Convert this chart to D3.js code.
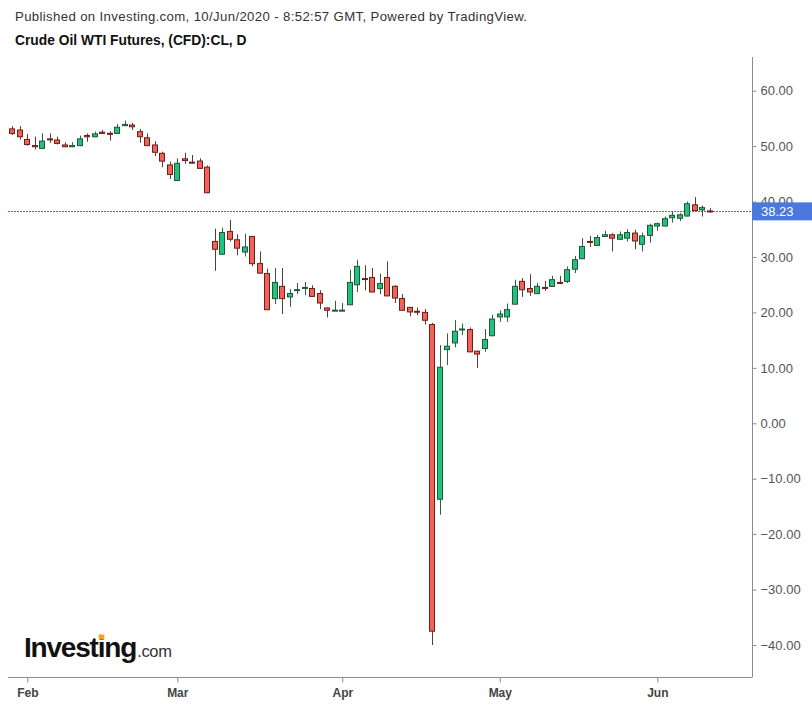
<!DOCTYPE html>
<html>
<head>
<meta charset="utf-8">
<script src="https://cdn.jsdelivr.net/npm/d3@7"></script>
<style>
  html, body { margin: 0; padding: 0; background: #fff; }
  svg { display: block; font-family: Arial, "Liberation Sans", sans-serif; }
</style>
</head>
<body>
<svg id="chart" width="812" height="707"></svg>
<script>
// ---- Data ----
const dates = [
  "2020-01-30","2020-01-31",
  "2020-02-03","2020-02-04","2020-02-05","2020-02-06","2020-02-07",
  "2020-02-10","2020-02-11","2020-02-12","2020-02-13","2020-02-14",
  "2020-02-17","2020-02-18","2020-02-19","2020-02-20","2020-02-21",
  "2020-02-24","2020-02-25","2020-02-26","2020-02-27","2020-02-28",
  "2020-03-02","2020-03-03","2020-03-04","2020-03-05","2020-03-06",
  "2020-03-09","2020-03-10","2020-03-11","2020-03-12","2020-03-13",
  "2020-03-16","2020-03-17","2020-03-18","2020-03-19","2020-03-20",
  "2020-03-23","2020-03-24","2020-03-25","2020-03-26","2020-03-27",
  "2020-03-30","2020-03-31",
  "2020-04-01","2020-04-02","2020-04-03",
  "2020-04-06","2020-04-07","2020-04-08","2020-04-09",
  "2020-04-13","2020-04-14","2020-04-15","2020-04-16","2020-04-17",
  "2020-04-20","2020-04-21","2020-04-22","2020-04-23","2020-04-24",
  "2020-04-27","2020-04-28","2020-04-29","2020-04-30",
  "2020-05-01",
  "2020-05-04","2020-05-05","2020-05-06","2020-05-07","2020-05-08",
  "2020-05-11","2020-05-12","2020-05-13","2020-05-14","2020-05-15",
  "2020-05-18","2020-05-19","2020-05-20","2020-05-21","2020-05-22",
  "2020-05-25","2020-05-26","2020-05-27","2020-05-28","2020-05-29",
  "2020-06-01","2020-06-02","2020-06-03","2020-06-04","2020-06-05",
  "2020-06-08","2020-06-09","2020-06-10"
];
const open = [
  53.2,53.0,
  51.3,50.2,49.5,51.4,51.2,
  50.3,49.8,50.0,52.0,51.6,
  52.6,52.4,52.2,53.6,53.9,
  52.7,51.6,50.3,48.8,46.7,
  43.7,47.8,47.2,47.4,46.3,
  32.9,30.4,34.7,33.2,30.8,
  33.8,28.9,27.1,22.4,24.8,
  22.7,24.0,24.5,24.4,23.5,
  20.9,20.3,
  20.3,21.3,24.9,
  26.2,26.4,24.2,26.4,
  24.8,22.6,21.0,20.3,20.1,
  17.9,-13.8,13.2,14.4,16.8,
  17.0,13.1,13.4,15.7,
  19.1,
  19.1,21.4,25.7,24.4,23.3,
  24.6,24.6,25.5,25.5,27.7,
  29.6,32.9,32.0,33.6,34.1,
  33.1,33.3,34.4,32.2,33.8,
  35.5,35.5,37.0,36.9,37.3,
  39.5,38.4,38.4
];
const high = [
  53.6,53.6,
  52.2,51.7,52.3,52.3,51.7,
  50.7,50.7,51.9,52.3,52.6,
  52.9,52.7,54.0,54.6,54.2,
  53.1,52.3,50.9,49.0,47.2,
  47.8,48.8,48.4,47.8,46.5,
  35.1,35.3,36.7,34.1,34.2,
  33.8,31.0,27.9,28.0,28.0,
  24.2,25.3,25.5,24.9,24.0,
  20.9,22.1,
  21.7,27.7,29.5,
  28.5,28.0,27.0,29.2,
  24.9,23.3,21.0,20.9,20.6,
  18.1,14.1,16.2,18.6,18.0,
  17.3,13.1,17.0,19.6,
  20.4,
  21.6,25.9,26.2,26.9,25.3,
  25.7,26.6,26.6,28.3,30.2,
  33.4,33.8,34.0,34.7,34.3,
  34.6,35.0,34.9,34.4,36.0,
  36.2,37.3,38.3,37.9,40.0,
  40.8,39.3,38.8
];
const low = [
  52.0,51.2,
  50.1,49.4,49.5,50.6,50.3,
  49.8,49.8,50.0,50.8,51.6,
  52.2,51.0,52.2,53.6,52.9,
  50.6,50.0,48.2,46.2,44.1,
  43.7,46.8,46.9,45.9,41.5,
  27.5,30.4,32.8,30.3,30.1,
  28.3,27.0,20.4,21.5,19.7,
  21.0,23.3,23.1,22.8,20.6,
  19.1,20.3,
  20.3,21.3,23.7,
  24.0,23.6,23.3,22.9,
  21.7,20.3,19.3,19.5,17.8,
  -40.0,-16.5,10.5,13.7,15.9,
  12.8,10.0,12.9,15.7,
  18.3,
  18.3,21.4,22.8,23.0,23.3,
  23.9,24.6,25.1,25.3,27.1,
  29.6,31.8,32.0,33.6,31.0,
  33.1,32.8,31.4,31.0,32.6,
  34.7,35.5,36.2,36.5,37.3,
  38.3,37.3,38.0
];
const close = [
  52.2,51.6,
  50.2,49.8,51.0,51.1,50.4,
  49.8,50.2,51.4,51.6,52.3,
  52.2,52.2,53.5,54.0,53.4,
  51.6,50.0,48.8,47.2,44.8,
  47.0,47.3,46.9,45.9,41.5,
  31.3,34.5,33.1,31.5,31.9,
  28.7,27.0,20.4,25.5,22.4,
  23.5,24.2,24.6,22.8,21.6,
  20.3,20.5,
  20.5,25.5,28.4,
  26.0,23.6,25.3,22.9,
  22.5,20.3,20.0,20.1,18.5,
  -37.6,10.2,14.0,16.7,17.1,
  12.8,12.4,15.2,18.9,
  19.8,
  20.6,24.8,24.0,23.6,24.8,
  24.3,26.0,25.4,27.8,29.6,
  32.0,32.6,33.6,34.1,33.3,
  34.1,34.5,32.8,33.9,35.8,
  36.1,37.0,37.6,37.7,39.7,
  38.3,39.0,38.23
];
const yTicks = [60, 50, 40, 30, 20, 10, 0, -10, -20, -30, -40];
const monthLabels = ["Feb", "Mar", "Apr", "May", "Jun"];
const monthDates = ["2020-02-03", "2020-03-02", "2020-04-01", "2020-05-01", "2020-06-01"];
const lastPrice = 38.23;
const headerLine1 = "Published on Investing.com, 10/Jun/2020 - 8:52:57 GMT, Powered by TradingView.";
const headerLine2 = "Crude Oil WTI Futures, (CFD):CL, D";

// ---- Layout ----
const svg = d3.select("#chart");
const plot = { left: 8, right: 752, top: 57, bottom: 677 };

const x = d3.scalePoint().domain(dates).range([12.3, 709.8]);
const y = d3.scaleLinear().domain([-40, 60]).range([645, 90.7]);

const colors = {
  upFill: "#1fc47a", upStroke: "#22563a",
  downFill: "#f0625a", downStroke: "#6b1f18",
  upWick: "#2f5e43", downWick: "#5a3a33"
};

// Header
svg.append("text").attr("x", 15).attr("y", 21)
  .attr("font-size", "13.2px").attr("fill", "#333")
  .attr("textLength", 512).attr("lengthAdjust", "spacing").text(headerLine1);
svg.append("text").attr("x", 15).attr("y", 45)
  .attr("font-size", "13.8px").attr("font-weight", "bold").attr("fill", "#111").text(headerLine2);

// Last price dotted line
svg.append("line")
  .attr("x1", plot.left).attr("x2", plot.right)
  .attr("y1", Math.round(y(lastPrice)) + 0.5).attr("y2", Math.round(y(lastPrice)) + 0.5)
  .attr("stroke", "#3d6ef0").attr("stroke-width", 1).attr("stroke-dasharray", "2,1")
  .attr("shape-rendering", "crispEdges");

// Candles
const data = dates.map((d, i) => ({ d, o: open[i], h: high[i], l: low[i], c: close[i] }));
const bw = 6;
const g = svg.append("g");
const candle = g.selectAll("g.c").data(data).join("g").attr("class", "c");
candle.append("line")
  .attr("x1", d => Math.round(x(d.d)) + 0.5).attr("x2", d => Math.round(x(d.d)) + 0.5)
  .attr("y1", d => y(d.h)).attr("y2", d => y(d.l))
  .attr("stroke", d => d.c >= d.o ? colors.upWick : colors.downWick)
  .attr("stroke-width", 1);
candle.append("rect")
  .attr("x", d => Math.round(x(d.d)) - 2.5)
  .attr("width", bw - 1)
  .attr("y", d => y(Math.max(d.o, d.c)) + 0.5)
  .attr("height", d => Math.max(1, Math.abs(y(d.o) - y(d.c)) - 1))
  .attr("fill", d => d.c >= d.o ? colors.upFill : colors.downFill)
  .attr("stroke", d => d.c >= d.o ? colors.upStroke : colors.downStroke)
  .attr("stroke-width", 1);

// Right axis
const yAxis = d3.axisRight(y).tickValues(yTicks).tickSize(4).tickPadding(4)
  .tickFormat(d3.format(".2f"));
const ya = svg.append("g").attr("transform", `translate(${plot.right + 0.5},0)`).call(yAxis);
ya.select(".domain").attr("d", `M0,${plot.top}V${plot.bottom}`).attr("stroke", "#8c8c8c");
ya.selectAll(".tick line").attr("stroke", "#8c8c8c");
ya.selectAll(".tick text").attr("fill", "#555").attr("font-size", "13px")
  .attr("font-family", "Arial, 'Liberation Sans', sans-serif");

// Bottom axis
const xAxis = d3.axisBottom(x).tickValues(monthDates).tickSize(5).tickPadding(6)
  .tickFormat((d, i) => monthLabels[i]);
const xa = svg.append("g").attr("transform", `translate(0,${plot.bottom + 0.5})`).call(xAxis);
xa.select(".domain").attr("d", `M${plot.left},0H${plot.right + 0.5}`).attr("stroke", "#8c8c8c");
xa.selectAll(".tick line").attr("stroke", "#8c8c8c");
xa.selectAll(".tick text").attr("fill", "#444").attr("font-size", "12px")
  .attr("font-family", "Arial, 'Liberation Sans', sans-serif").attr("font-weight", "bold");

// Last price label
const ly = y(lastPrice);
svg.append("rect").attr("x", plot.right).attr("y", ly - 9).attr("width", 812 - plot.right).attr("height", 18)
  .attr("fill", "#4a78dc");
svg.append("text").attr("x", plot.right + 9).attr("y", ly + 5)
  .attr("font-size", "13px").attr("fill", "#fff").text(lastPrice.toFixed(2));

// Logo
const logo = svg.append("g");
const lt = logo.append("text").attr("x", 24).attr("y", 657)
  .attr("font-size", "28px").attr("font-weight", "bold").attr("fill", "#111")
  .attr("letter-spacing", "-1.2px").text("Investing");
const ltNode = lt.node();
const wAll = ltNode.getComputedTextLength();
logo.append("text").attr("x", 24 + wAll + 1).attr("y", 657)
  .attr("font-size", "16.5px").attr("fill", "#333").attr("letter-spacing", "-0.3px").text(".com");
// orange dot on the second "i"
const iStart = ltNode.getStartPositionOfChar(6);
const iEnd = ltNode.getEndPositionOfChar(6);
logo.append("rect").attr("x", iStart.x + 1).attr("y", 634.5)
  .attr("width", Math.max(4, iEnd.x - iStart.x - 1)).attr("height", 5).attr("fill", "#f5a01e");
</script>
</body>
</html>
